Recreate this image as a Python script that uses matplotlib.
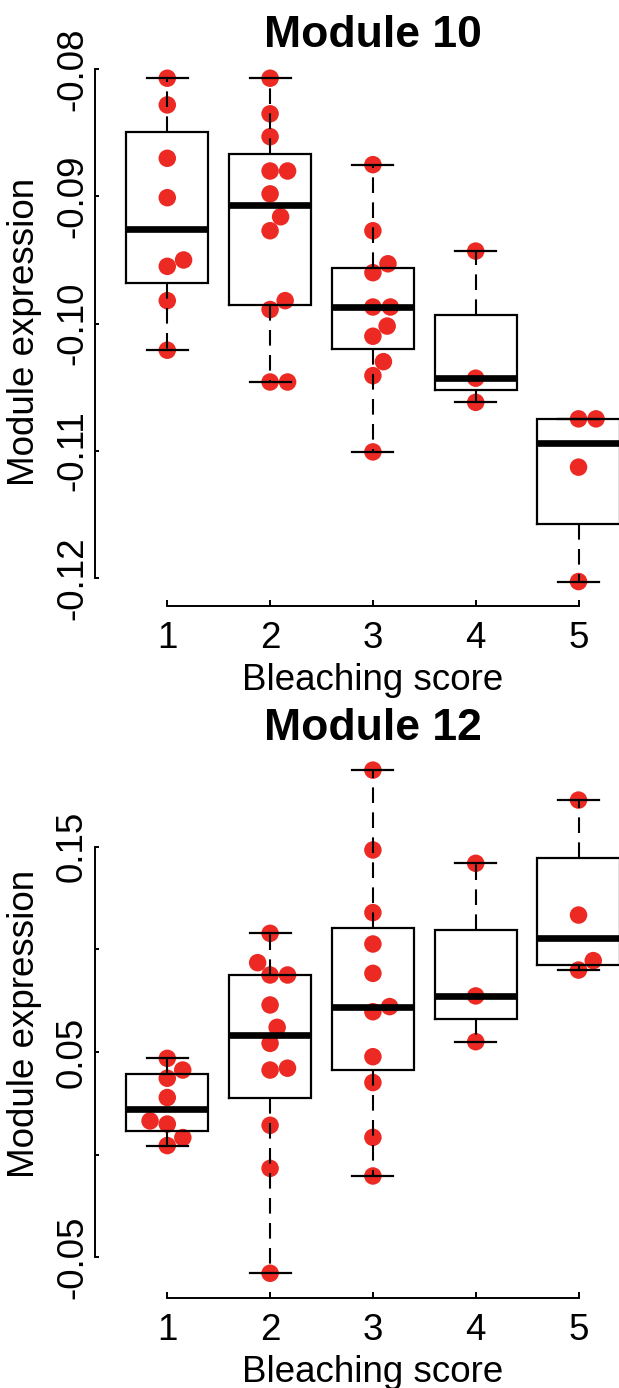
import numpy as np
import matplotlib
matplotlib.use("Agg")
import matplotlib.pyplot as plt
from matplotlib.transforms import blended_transform_factory as blend

# ---------------- data ----------------
scores = [1, 2, 3, 4, 5]
score_labels = ["1", "2", "3", "4", "5"]

m10_s1 = [-0.0807, -0.0828, -0.0870, -0.0901, -0.0950, -0.0955, -0.0982, -0.1021]
m10_s2 = [-0.0807, -0.0835, -0.0853, -0.0880, -0.0880, -0.0898, -0.0916, -0.0927,
          -0.0982, -0.0989, -0.1046, -0.1046]
m10_s3 = [-0.0875, -0.0927, -0.0953, -0.0960, -0.0987, -0.0987, -0.1002, -0.1010,
          -0.1030, -0.1041, -0.1101]
m10_s4 = [-0.0943, -0.1043, -0.1062]
m10_s5 = [-0.1075, -0.1075, -0.1113, -0.1203]

m12_s1 = [0.0469, 0.0412, 0.0372, 0.0278, 0.0164, 0.0149, 0.0083, 0.0044]
m12_s2 = [0.1078, 0.0935, 0.0875, 0.0875, 0.0729, 0.0620, 0.0542, 0.0421,
          0.0412, 0.0143, -0.0067, -0.0578]
m12_s3 = [0.1873, 0.1484, 0.1179, 0.1026, 0.0883, 0.0721, 0.0696, 0.0477,
          0.0351, 0.0084, -0.0104]
m12_s4 = [0.1419, 0.0773, 0.0550]
m12_s5 = [0.1727, 0.1167, 0.0945, 0.0899]

m10_yticks = [-0.12, -0.11, -0.10, -0.09, -0.08]
m10_yticklabels = ["-0.12", "-0.11", "-0.10", "-0.09", "-0.08"]
m12_yticks = [-0.05, 0.00, 0.05, 0.10, 0.15]
m12_yticklabels = ["-0.05", "", "0.05", "", "0.15"]

titles = ["Module 10", "Module 12"]
xlabel = "Bleaching score"
ylabel = "Module expression"

# ---------------- layout / style ----------------
W, H, DPI = 619, 1388, 100
plt.rcParams['font.family'] = ['Liberation Sans', 'DejaVu Sans']
FS = 26.5
TITLE_FS = 32
DOT_COLOR = '#EC2A23'
DOT_D_PX = 17.5          # swarm spacing in pixels
LEFT_PX, RIGHT_PX = 95.3, 650.5
XLIM = (0.3, 5.7)

panels = [
    dict(groups=[m10_s1, m10_s2, m10_s3, m10_s4, m10_s5], top=57.5, bottom=605.7,
         ylim=(-0.1222, -0.07907), yticks=m10_yticks, ylabels=m10_yticklabels,
         title=titles[0]),
    dict(groups=[m12_s1, m12_s2, m12_s3, m12_s4, m12_s5], top=750.0, bottom=1297.7,
         ylim=(-0.0697, 0.1971), yticks=m12_yticks, ylabels=m12_yticklabels,
         title=titles[1]),
]


def fivenum(v):
    s = np.sort(np.asarray(v, float))
    n = len(s)
    n4 = np.floor((n + 3) / 2) / 2
    d = np.array([1, n4, (n + 1) / 2, n + 1 - n4, n]) - 1
    return 0.5 * (s[np.floor(d).astype(int)] + s[np.ceil(d).astype(int)])


def box_stats(v):
    v = np.asarray(v, float)
    lo, q1, med, q3, hi = fivenum(v)
    iqr = q3 - q1
    inside = v[(v >= q1 - 1.5 * iqr) & (v <= q3 + 1.5 * iqr)]
    return dict(med=med, q1=q1, q3=q3, whislo=inside.min(), whishi=inside.max(),
                fliers=v[(v < q1 - 1.5 * iqr) | (v > q3 + 1.5 * iqr)])


def swarm(ax, x0, vals, D):
    vals = np.asarray(vals, float)
    pts = ax.transData.transform(np.column_stack([np.full(len(vals), x0), vals]))
    ys = pts[:, 1]
    order = np.argsort(vals, kind='stable')
    placed = []
    dx = np.zeros(len(vals))
    for i in order:
        y = ys[i]
        near = [(px, py) for px, py in placed if abs(py - y) < D]
        cands = [0.0]
        for px, py in near:
            h = np.sqrt(D ** 2 - (py - y) ** 2)
            cands += [px + h, px - h]
        cands = sorted(cands, key=lambda c: (round(abs(c), 6), -c))
        chosen = cands[-1]
        for c in cands:
            if all((c - px) ** 2 + (y - py) ** 2 >= D ** 2 - 1e-6 for px, py in near):
                chosen = c
                break
        placed.append((chosen, y))
        dx[i] = chosen
    p0 = ax.transData.transform((x0, 0))[0]
    p1 = ax.transData.transform((x0 + 1, 0))[0]
    return x0 + dx / (p1 - p0)


fig = plt.figure(figsize=(W / DPI, H / DPI), dpi=DPI)
fig.patch.set_facecolor('white')

for p in panels:
    top, bottom = p['top'], p['bottom']
    ax = fig.add_axes([LEFT_PX / W, 1 - bottom / H, (RIGHT_PX - LEFT_PX) / W, (bottom - top) / H])
    ax.set_xlim(*XLIM)
    ax.set_ylim(*p['ylim'])
    ax.patch.set_visible(False)

    # points (beeswarm) under the boxes
    for s, g in zip(scores, p['groups']):
        xs = swarm(ax, s, g, DOT_D_PX)
        ax.scatter(xs, g, s=12.6 ** 2, c=DOT_COLOR, edgecolors='none', zorder=2)

    stats = [box_stats(g) for g in p['groups']]
    ax.bxp(stats, positions=scores, widths=0.8, showfliers=False, manage_ticks=False,
           boxprops=dict(color='black', linewidth=1.6, solid_joinstyle='miter'),
           whiskerprops=dict(color='black', linewidth=1.5, linestyle=(0, (7.5, 4.5))),
           capprops=dict(color='black', linewidth=1.6),
           medianprops=dict(color='black', linewidth=4.8, solid_capstyle='butt'),
           zorder=3)

    for side in ['top', 'right']:
        ax.spines[side].set_visible(False)
    ax.spines['left'].set_bounds(p['yticks'][0], p['yticks'][-1])
    ax.spines['bottom'].set_bounds(scores[0], scores[-1])
    for side in ['left', 'bottom']:
        ax.spines[side].set_linewidth(1.4)
    ax.set_xticks(scores)
    ax.set_yticks(p['yticks'])
    ax.tick_params(direction='in', width=1.4, labelleft=False, labelbottom=False)
    ax.tick_params(axis='x', length=4)
    ax.tick_params(axis='y', length=3)

    tx = blend(ax.transData, fig.transFigure)
    for s, lab in zip(scores, score_labels):
        ax.text(s, 1 - (bottom + 42.3) / H, lab, transform=tx, ha='center',
                va='baseline', fontsize=FS)
    ty = blend(fig.transFigure, ax.transData)
    for v, lab in zip(p['yticks'], p['ylabels']):
        if lab:
            ax.text(82 / W, v, lab, transform=ty, rotation=90, rotation_mode='anchor',
                    ha='center', va='baseline', fontsize=FS)

    cx = (LEFT_PX + RIGHT_PX) / 2 / W
    fig.text(cx, 1 - (top - 10.5) / H, p['title'], ha='center', va='baseline',
             fontsize=TITLE_FS, fontweight='bold')
    fig.text(cx, 1 - (bottom + 84) / H, xlabel, ha='center', va='baseline', fontsize=FS)
    fig.text(34 / W, 1 - ((top + bottom) / 2) / H, ylabel, rotation=90,
             rotation_mode='anchor', ha='center', va='baseline', fontsize=FS)

fig.savefig('out.png', dpi=DPI)
